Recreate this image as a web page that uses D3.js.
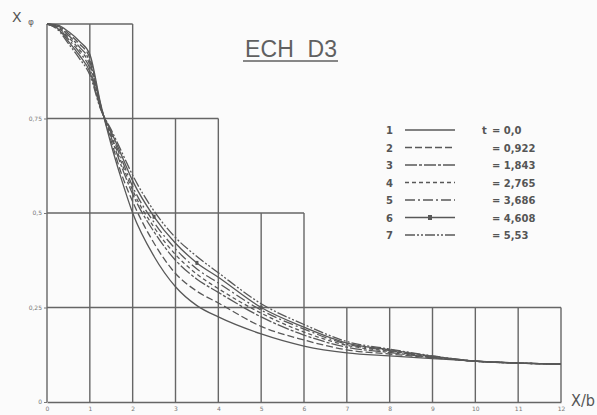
<!DOCTYPE html>
<html>
<head>
<meta charset="utf-8">
<script src="https://cdn.jsdelivr.net/npm/d3@7"></script>
<style>
  html, body { margin: 0; padding: 0; background: #fbfbfb; }
  svg { display: block; }
</style>
</head>
<body>
<svg id="chart"></svg>
<script>
const width = 597;
const height = 415;

// abscissa X/b where the curves were read
const xs = [0, 0.25, 0.5, 0.75, 1, 1.25, 1.5, 1.75, 2, 2.5, 3, 3.5, 4, 5, 6, 7, 8, 9, 10, 11, 12];

// X phi for each curve (1..7)
const curve1 = [1, 0.997, 0.980, 0.955, 0.920, 0.790, 0.680, 0.585, 0.500, 0.385, 0.305, 0.255, 0.225, 0.180, 0.148, 0.130, 0.122, 0.115, 0.108, 0.103, 0.100];
const curve2 = [1, 0.995, 0.975, 0.948, 0.910, 0.787, 0.690, 0.600, 0.530, 0.420, 0.340, 0.293, 0.262, 0.200, 0.164, 0.138, 0.127, 0.117, 0.108, 0.103, 0.100];
const curve3 = [1, 0.993, 0.970, 0.940, 0.900, 0.784, 0.700, 0.620, 0.550, 0.450, 0.375, 0.325, 0.290, 0.225, 0.177, 0.145, 0.131, 0.118, 0.108, 0.103, 0.100];
const curve4 = [1, 0.991, 0.965, 0.933, 0.892, 0.781, 0.705, 0.630, 0.560, 0.462, 0.390, 0.338, 0.300, 0.235, 0.185, 0.150, 0.134, 0.119, 0.108, 0.103, 0.100];
const curve5 = [1, 0.990, 0.960, 0.926, 0.883, 0.779, 0.710, 0.640, 0.570, 0.475, 0.405, 0.352, 0.315, 0.243, 0.193, 0.153, 0.136, 0.120, 0.108, 0.103, 0.100];
const curve6 = [1, 0.988, 0.954, 0.918, 0.874, 0.777, 0.715, 0.650, 0.585, 0.490, 0.420, 0.368, 0.330, 0.250, 0.198, 0.156, 0.138, 0.121, 0.108, 0.103, 0.100];
const curve7 = [1, 0.985, 0.948, 0.910, 0.865, 0.775, 0.720, 0.660, 0.600, 0.505, 0.435, 0.385, 0.342, 0.260, 0.205, 0.160, 0.140, 0.122, 0.108, 0.103, 0.100];

const curveNames = ['1', '2', '3', '4', '5', '6', '7'];
const timeLabels = ['0,0', '0,922', '1,843', '2,765', '3,686', '4,608', '5,53'];

// ticks
const xTicks = [0, 1, 2, 3, 4, 5, 6, 7, 8, 9, 10, 11, 12];
const yTicks = [0, 0.25, 0.5, 0.75];
const yTickLabels = ['0', '0,25', '0,5', '0,75'];
// height reached by the grid above each x tick (stepped grid)
const gridTop = [1, 1, 1, 0.75, 0.75, 0.5, 0.5, 0.25, 0.25, 0.25, 0.25, 0.25, 0.25];
const gridLevels = [0.25, 0.5, 0.75, 1];

const series = [curve1, curve2, curve3, curve4, curve5, curve6, curve7];
const dashes = ['none', '7,3', '12,2,3,2', '4,3', '10,3,2,3', 'none', '10,2,2,2,2,2'];

const ink = '#585858';

const svg = d3.select('#chart')
  .attr('width', width)
  .attr('height', height);

const x = d3.scaleLinear().domain([0, 12]).range([47, 561]);
const y = d3.scaleLinear().domain([0, 1]).range([402, 24]);

const g = svg.append('g');

// stepped grid
g.selectAll('line.vgrid').data(xTicks).enter().append('line')
  .attr('x1', d => x(d)).attr('x2', d => x(d))
  .attr('y1', y(0)).attr('y2', (d, i) => y(gridTop[i]))
  .attr('stroke', '#666').attr('stroke-width', 1.4);

g.selectAll('line.hgrid').data(gridLevels).enter().append('line')
  .attr('x1', x(0))
  .attr('x2', lv => x(d3.max(xTicks.filter((t, i) => gridTop[i] >= lv))))
  .attr('y1', lv => y(lv)).attr('y2', lv => y(lv))
  .attr('stroke', '#666').attr('stroke-width', 1.4);

// x axis
const xaxis = d3.axisBottom(x).tickValues(xTicks).tickSize(0).tickPadding(5);
g.append('g').attr('transform', `translate(0,${y(0)})`).call(xaxis)
  .call(a => a.select('.domain').attr('stroke', '#666').attr('stroke-width', 1.4))
  .call(a => a.selectAll('text').attr('font-size', 6).attr('fill', '#777')
    .attr('font-family', 'DejaVu Sans'));

// y axis labels
const yaxis = d3.axisLeft(y).tickValues(yTicks).tickSize(3).tickPadding(2)
  .tickFormat((d, i) => yTickLabels[i]);
g.append('g').attr('transform', `translate(${x(0)},0)`).call(yaxis)
  .call(a => a.select('.domain').remove())
  .call(a => a.selectAll('line').attr('stroke', '#777'))
  .call(a => a.selectAll('text').attr('font-size', 6).attr('fill', '#777')
    .attr('font-family', 'DejaVu Sans'));

// curves
const line = d3.line()
  .x((d, i) => x(xs[i]))
  .y(d => y(d))
  .curve(d3.curveMonotoneX);

g.selectAll('path.curve').data(series).enter().append('path')
  .attr('class', 'curve')
  .attr('d', d => line(d))
  .attr('fill', 'none')
  .attr('stroke', ink)
  .attr('stroke-width', 1.3)
  .attr('stroke-dasharray', (d, i) => dashes[i]);

// small marks on curve 6
g.selectAll('rect.mark6').data([2.5, 3.5, 5]).enter().append('rect')
  .attr('x', d => x(d) - 1.5)
  .attr('y', d => y(curve6[xs.indexOf(d)]) - 2)
  .attr('width', 3).attr('height', 4)
  .attr('fill', ink);

// title
svg.append('text')
  .attr('x', 245).attr('y', 57)
  .attr('font-family', 'Liberation Sans, Arial, sans-serif')
  .attr('font-size', 23)
  .attr('fill', '#606060')
  .attr('textLength', 92)
  .attr('xml:space', 'preserve')
  .text('ECH  D3');
svg.append('line')
  .attr('x1', 243).attr('x2', 338).attr('y1', 61).attr('y2', 61)
  .attr('stroke', '#606060').attr('stroke-width', 1.3);

// axis names
svg.append('text')
  .attr('x', 12).attr('y', 22)
  .attr('font-family', 'DejaVu Sans').attr('font-size', 14)
  .attr('fill', '#555')
  .text('X');
svg.append('text')
  .attr('x', 28).attr('y', 25)
  .attr('font-family', 'DejaVu Sans').attr('font-size', 9)
  .attr('fill', '#666')
  .text('φ');
svg.append('text')
  .attr('x', 571).attr('y', 406)
  .attr('font-family', 'DejaVu Sans').attr('font-size', 15)
  .attr('fill', '#555')
  .attr('textLength', 24).attr('lengthAdjust', 'spacingAndGlyphs')
  .text('X/b');

// legend
const legend = svg.append('g');
const rowY = i => 130 + i * 17.5;
legend.selectAll('text.num').data(curveNames).enter().append('text')
  .attr('x', 386).attr('y', (d, i) => rowY(i) + 4)
  .attr('font-family', 'DejaVu Sans').attr('font-weight', 'bold')
  .attr('font-size', 10).attr('fill', '#555')
  .text(d => d);
legend.selectAll('line.key').data(curveNames).enter().append('line')
  .attr('x1', 405).attr('x2', 455)
  .attr('y1', (d, i) => rowY(i)).attr('y2', (d, i) => rowY(i))
  .attr('stroke', ink).attr('stroke-width', 1.3)
  .attr('stroke-dasharray', (d, i) => dashes[i]);
legend.append('rect')
  .attr('x', 428).attr('y', rowY(5) - 2.5).attr('width', 4).attr('height', 5)
  .attr('fill', ink);
legend.append('text')
  .attr('x', 482).attr('y', rowY(0) + 4)
  .attr('font-family', 'DejaVu Sans').attr('font-weight', 'bold')
  .attr('font-size', 10).attr('fill', '#555')
  .text('t');
legend.selectAll('text.val').data(timeLabels).enter().append('text')
  .attr('x', 492).attr('y', (d, i) => rowY(i) + 4)
  .attr('font-family', 'DejaVu Sans').attr('font-weight', 'bold')
  .attr('font-size', 10).attr('fill', '#555')
  .text(d => '= ' + d);
</script>
</body>
</html>
